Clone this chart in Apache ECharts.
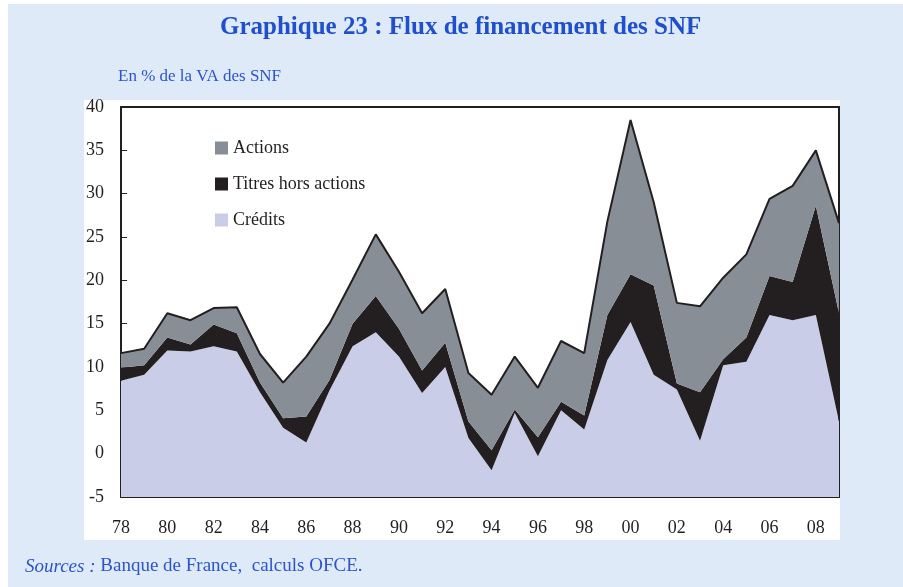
<!DOCTYPE html>
<html>
<head>
<meta charset="utf-8">
<script src="https://cdn.jsdelivr.net/npm/echarts@6/dist/echarts.min.js"></script>
<style>
  html, body { margin: 0; padding: 0; background: #fff; }
  #chart { width: 903px; height: 587px; }
</style>
</head>
<body>
<div id="chart"></div>
<script>
  // années 1978 - 2009
  const years = ['78', '79', '80', '81', '82', '83', '84', '85', '86', '87', '88', '89', '90', '91', '92', '93',
    '94', '95', '96', '97', '98', '99', '00', '01', '02', '03', '04', '05', '06', '07', '08', '09']
  const credits = [8.4, 9.1, 11.9, 11.8, 12.4, 11.8, 7.1, 3.0, 1.3, 7.3, 12.4, 14.0, 11.2, 7.0, 10.0, 1.8,
    -1.9, 4.7, -0.3, 5.0, 2.8, 10.8, 15.2, 9.1, 7.4, 1.5, 10.2, 10.6, 16.0, 15.4, 16.0, 3.7]
  const titres = [1.5, 1.1, 1.5, 0.8, 2.5, 2.1, 1.1, 1.1, 3.0, 1.2, 2.6, 4.2, 3.2, 2.6, 2.8, 1.9,
    2.3, 0.4, 2.2, 1.0, 1.6, 5.2, 5.5, 10.3, 0.7, 5.6, 0.7, 2.8, 4.5, 4.4, 12.6, 12.5]
  const actions = [1.7, 1.9, 2.8, 2.8, 1.9, 3.0, 3.3, 4.1, 6.9, 6.5, 5.1, 7.1, 6.6, 6.6, 6.2, 5.6,
    6.4, 6.1, 5.7, 7.0, 7.2, 10.8, 17.8, 9.6, 9.3, 9.9, 9.4, 9.6, 8.9, 11.1, 6.4, 10.4]

  const serif = '"Liberation Serif", "DejaVu Serif", serif'
  const ink = '#231f20'
  const blue = '#1f4fcc'

  let chart = echarts.init(document.getElementById('chart'))
  chart.setOption({
    animation: false,
    textStyle: { fontFamily: serif },
    graphic: [
      {
        type: 'rect', z: -10, silent: true,
        shape: { x: 8, y: 4, width: 895, height: 583 },
        style: { fill: '#deeaf8' }
      },
      {
        type: 'rect', z: -9, silent: true,
        shape: { x: 84, y: 100, width: 756, height: 440 },
        style: { fill: '#ffffff' }
      },
      {
        type: 'text', left: 220, top: 15,
        style: { text: 'Graphique 23 : Flux de financement des SNF', font: 'bold 25px ' + serif, fill: blue }
      },
      {
        type: 'text', left: 118, top: 68,
        style: { text: 'En % de la VA des SNF', font: '17px ' + serif, fill: '#2a56c8' }
      },
      {
        type: 'text', left: 25, top: 557,
        style: {
          text: '{i|Sources :} Banque de France,  calculs OFCE.',
          font: '19px ' + serif, fill: '#2a56c8',
          rich: { i: { fontStyle: 'italic', fontSize: 19, fontFamily: serif, fill: '#2a56c8' } }
        }
      }
    ],
    legend: {
      data: ['Actions', 'Titres hors actions', 'Crédits'],
      orient: 'vertical',
      left: 210, top: 134,
      icon: 'rect',
      itemWidth: 13, itemHeight: 13,
      itemGap: 18,
      textStyle: { fontFamily: serif, fontSize: 18, color: ink },
      itemStyle: { borderWidth: 0 }
    },
    grid: { left: 121, right: 64, top: 107, bottom: 90 },
    xAxis: [
      {
        type: 'category', data: years, boundaryGap: false,
        axisLine: { onZero: false, lineStyle: { color: ink, width: 2 } },
        axisTick: { inside: true, length: 6, interval: 1, lineStyle: { color: ink } },
        axisLabel: { interval: 1, margin: 22, fontSize: 18, color: ink, fontFamily: serif },
        splitLine: { show: false }
      },
      {
        type: 'category', data: years, boundaryGap: false, position: 'top',
        axisLine: { onZero: false, lineStyle: { color: ink, width: 2 } },
        axisTick: { show: false }, axisLabel: { show: false }
      }
    ],
    yAxis: [
      {
        type: 'value', min: -5, max: 40, interval: 5,
        axisLine: { show: true, lineStyle: { color: ink, width: 2 } },
        axisTick: { show: true, inside: true, length: 6, lineStyle: { color: ink } },
        axisLabel: { margin: 17, fontSize: 18, color: ink, fontFamily: serif },
        splitLine: { show: false }
      },
      {
        type: 'value', min: -5, max: 40, interval: 5, position: 'right',
        axisLine: { show: true, lineStyle: { color: ink, width: 2 } },
        axisTick: { show: false }, axisLabel: { show: false }, splitLine: { show: false }
      }
    ],
    series: [
      {
        name: 'Crédits', type: 'line', stack: 'total', stackStrategy: 'all',
        data: credits, symbol: 'none', color: '#c9cde8',
        lineStyle: { width: 0 },
        areaStyle: { color: '#c9cde8', opacity: 1, origin: 'start' }
      },
      {
        name: 'Titres hors actions', type: 'line', stack: 'total', stackStrategy: 'all',
        data: titres, symbol: 'none', color: ink,
        lineStyle: { width: 0 },
        areaStyle: { color: ink, opacity: 1 }
      },
      {
        name: 'Actions', type: 'line', stack: 'total', stackStrategy: 'all',
        data: actions, symbol: 'none', color: '#878e96',
        lineStyle: { width: 2, color: ink },
        areaStyle: { color: '#878e96', opacity: 1 }
      }
    ]
  })
</script>
</body>
</html>
